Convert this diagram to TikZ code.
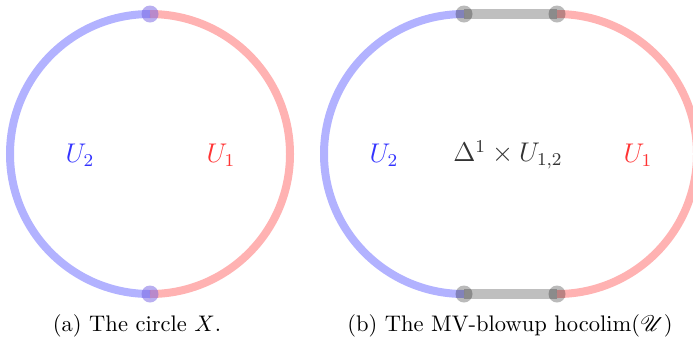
\documentclass[tikz,border=0pt]{standalone}
\usepackage{mathrsfs}
\begin{document}
\begin{tikzpicture}[x=0.444pt,y=-0.444pt,
  arcblue/.style={line width=8*0.444pt, draw=blue, draw opacity=0.3},
  arcred/.style={line width=8*0.444pt, draw=red, draw opacity=0.3},
  bar/.style={line width=10*0.444pt, draw=black, draw opacity=0.25},
  dota/.style={circle, inner sep=0pt, minimum size=17*0.444pt, fill={rgb,255:red,115;green,95;blue,225}, fill opacity=0.5},
  dotb/.style={circle, inner sep=0pt, minimum size=17*0.444pt, fill=black, fill opacity=0.27},
  lab/.style={font=\large},
  captext/.style={font=\normalsize}]
\useasboundingbox (0,0) rectangle (693,344);
% figure (a)
\coordinate (ta) at (150,14);
\coordinate (ba) at (150,294);
\draw[arcblue] (ta) arc[start angle=90, end angle=270, x radius=140, y radius=-140];
\draw[arcred] (ta) arc[start angle=90, end angle=-90, x radius=140, y radius=-140];
\node[dota] (dta) at (ta) {};
\node[dota] (dba) at (ba) {};
\node[lab, text=blue!80] (u2a) at (80,155) {$U_2$};
\node[lab, text=red!80] (u1a) at (221,155) {$U_1$};
\node[captext] (capa) at (137,326) {(a) The circle $X$.};
% figure (b)
\coordinate (tl) at (464,14);
\coordinate (bl) at (464,294);
\coordinate (tr) at (557,14);
\coordinate (br) at (557,294);
\draw[arcblue] (tl) arc[start angle=90, end angle=270, x radius=140, y radius=-140];
\draw[arcred] (tr) arc[start angle=90, end angle=-90, x radius=140, y radius=-140];
\draw[bar] (tl) -- (tr);
\draw[bar] (bl) -- (br);
\node[dotb] (dtl) at (tl) {};
\node[dotb] (dbl) at (bl) {};
\node[dotb] (dtr) at (tr) {};
\node[dotb] (dbr) at (br) {};
\node[lab, text=blue!80] (u2b) at (384,155) {$U_2$};
\node[lab, text=black!80] (mid) at (508,155) {$\Delta^1\times U_{1,2}$};
\node[lab, text=red!80] (u1b) at (638,155) {$U_1$};
\node[captext] (capb) at (510,326) {(b) The MV-blowup $\mathrm{hocolim}(\mathscr{U})$};
\end{tikzpicture}
\end{document}
